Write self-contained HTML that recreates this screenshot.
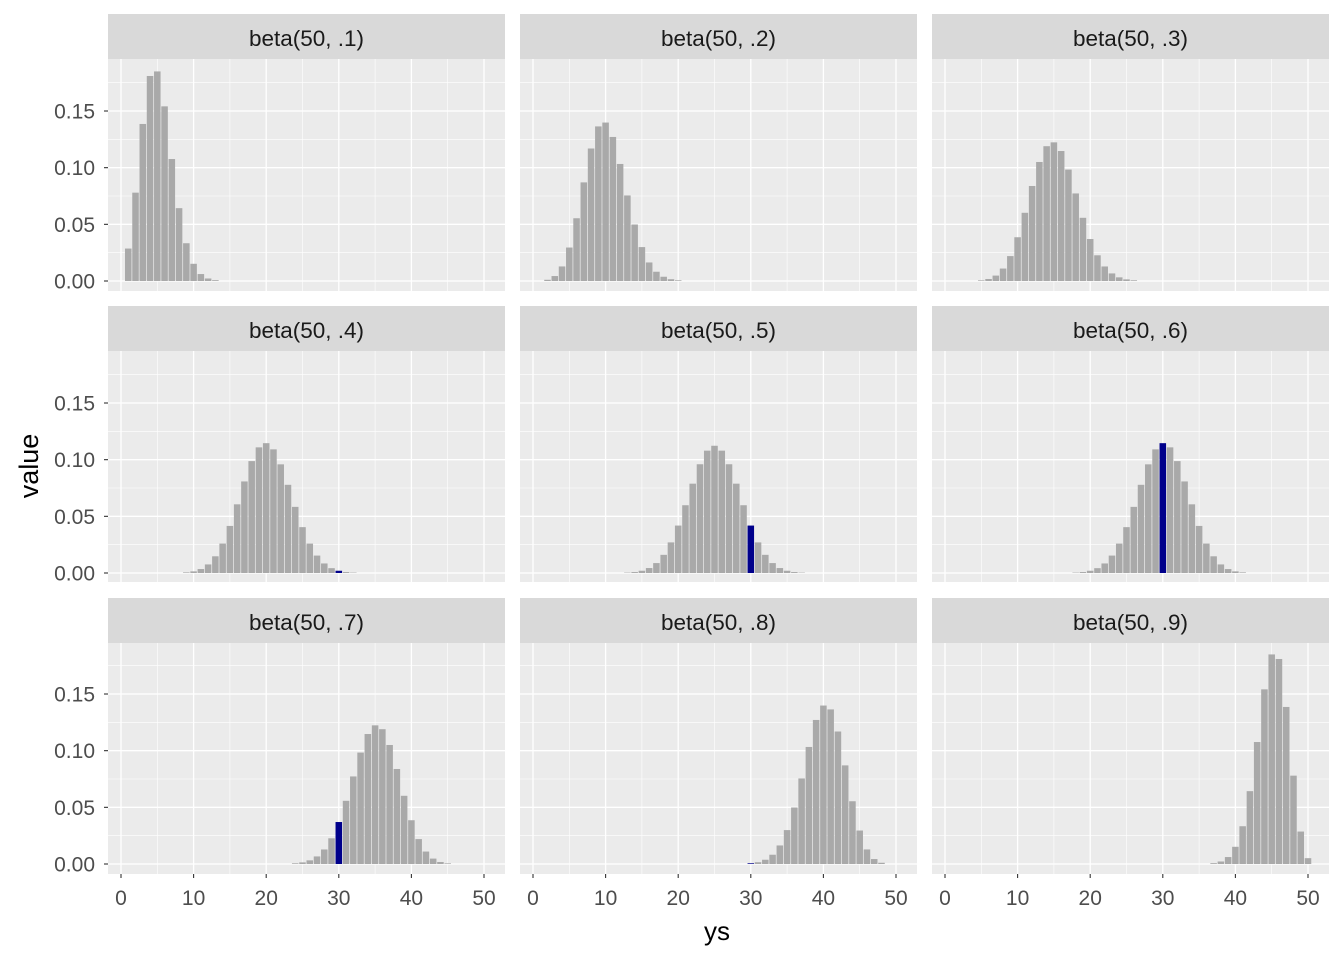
<!DOCTYPE html>
<html><head><meta charset="utf-8"><style>
body{margin:0;background:#fff}
svg text{font-family:"Liberation Sans",Arial,sans-serif}
</style></head><body>
<svg id="s" width="1344" height="960" xmlns="http://www.w3.org/2000/svg"></svg>
<script>
const s=document.getElementById('s');
let h='<rect width="1344" height="960" fill="#fff"/>';
const cols=[108,520,932], W=397;
const rows=[{st:14,pt:59,pb:291,z:281},{st:306,pt:351,pb:582,z:573},{st:598,pt:643,pb:874,z:864}];
const sx=7.26, sy=1133.3;
function lg(n,k){let r=0;for(let i=1;i<=k;i++)r+=Math.log(n-k+i)-Math.log(i);return r;}
function pmf(k,p){return Math.exp(lg(50,k)+k*Math.log(p)+(50-k)*Math.log(1-p));}
const ps=['.1','.2','.3','.4','.5','.6','.7','.8','.9'];
for(let r=0;r<3;r++)for(let c=0;c<3;c++){
 const R=rows[r],L=cols[c],x0=L+13,p=(r*3+c+1)/10;
 h+=`<rect x="${L}" y="${R.st}" width="${W}" height="${R.pt-R.st}" fill="#D9D9D9"/>`;
 h+=`<text x="${L+W/2}" y="${R.st+32}" font-size="22.5" text-anchor="middle" fill="#1A1A1A">beta(50, ${ps[r*3+c]})</text>`;
 h+=`<rect x="${L}" y="${R.pt}" width="${W}" height="${R.pb-R.pt}" fill="#EBEBEB"/>`;
 for(let v=0.025;v<0.2;v+=0.05){const y=R.z-v*sy;h+=`<line x1="${L}" x2="${L+W}" y1="${y}" y2="${y}" stroke="#fff" stroke-width="0.6"/>`;}
 for(let v=5;v<=45;v+=10){const x=x0+v*sx;h+=`<line x1="${x}" x2="${x}" y1="${R.pt}" y2="${R.pb}" stroke="#fff" stroke-width="0.6"/>`;}
 for(let i=0;i<4;i++){const y=R.z-i*0.05*sy;h+=`<line x1="${L}" x2="${L+W}" y1="${y}" y2="${y}" stroke="#fff" stroke-width="1.3"/>`;}
 for(let v=0;v<=50;v+=10){const x=x0+v*sx;h+=`<line x1="${x}" x2="${x}" y1="${R.pt}" y2="${R.pb}" stroke="#fff" stroke-width="1.3"/>`;}
 for(let k=1;k<=50;k++){const v=pmf(k,p);const hh=v*sy;if(hh<0.3)continue;
  h+=`<rect x="${x0+(k-0.45)*sx}" y="${R.z-hh}" width="${0.9*sx}" height="${hh}" fill="${k==30?'#00008B':'#A9A9A9'}"/>`;}
 if(c==0){for(let i=0;i<4;i++){const y=R.z-i*0.05*sy;
  h+=`<line x1="${L-4}" x2="${L}" y1="${y}" y2="${y}" stroke="#333" stroke-width="1.1"/>`;
  h+=`<text x="${L-13}" y="${y+7.5}" font-size="21" text-anchor="end" fill="#4D4D4D">${(i*0.05).toFixed(2)}</text>`;}}
 if(r==2){for(let v=0;v<=50;v+=10){const x=x0+v*sx;
  h+=`<line x1="${x}" x2="${x}" y1="${R.pb}" y2="${R.pb+4}" stroke="#333" stroke-width="1.1"/>`;
  h+=`<text x="${x}" y="${R.pb+31}" font-size="21" text-anchor="middle" fill="#4D4D4D">${v}</text>`;}}
}
h+=`<text x="717" y="940" font-size="26" text-anchor="middle" fill="#000">ys</text>`;
h+=`<text transform="translate(38,466) rotate(-90)" font-size="27" text-anchor="middle" fill="#000">value</text>`;
s.innerHTML=h;
</script>
</body></html>
